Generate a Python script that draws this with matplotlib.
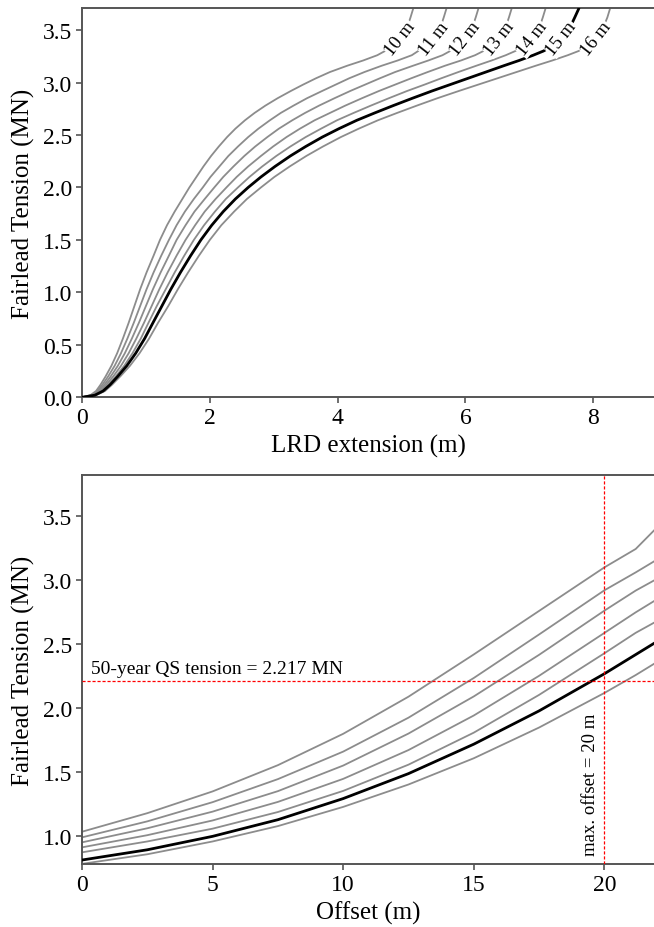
import numpy as np
import matplotlib.pyplot as plt

plt.rcParams['font.family'] = ['Liberation Serif', 'DejaVu Serif']

# LRD design lengths (m); 15 m is the selected design
lengths = ['10 m', '11 m', '12 m', '13 m', '14 m', '15 m', '16 m']
selected = '15 m'

# --- LRD extension (m) at each fairlead tension level (MN) ---
tension_levels = [0, 0.02, 0.06, 0.12, 0.20, 0.30, 0.42, 0.56, 0.71, 0.87, 1.03,
                  1.19, 1.35, 1.50, 1.64, 1.77, 1.89, 2.00, 2.10, 2.20, 2.30, 2.39,
                  2.48, 2.56, 2.64, 2.71, 2.78, 2.85, 2.92, 2.98, 3.04, 3.10, 3.16,
                  3.21, 3.26, 3.30, 3.36, 3.44, 3.53, 3.62, 3.70]
ext_10 = [0, 0.13, 0.22, 0.29, 0.37, 0.46, 0.55, 0.64, 0.73, 0.82, 0.91, 1.01, 1.12,
          1.22, 1.33, 1.45, 1.57, 1.68, 1.79, 1.90, 2.02, 2.14, 2.27, 2.40, 2.55,
          2.70, 2.87, 3.06, 3.27, 3.46, 3.66, 3.88, 4.15, 4.40, 4.62, 4.74,
          4.89, 5.01, 5.09, 5.14, 5.18]
ext_11 = [0, 0.15, 0.24, 0.32, 0.41, 0.51, 0.61, 0.71, 0.81, 0.91, 1.01, 1.12, 1.24,
          1.36, 1.48, 1.61, 1.75, 1.89, 2.01, 2.15, 2.29, 2.44, 2.60, 2.76, 2.94,
          3.11, 3.31, 3.52, 3.76, 3.97, 4.18, 4.42, 4.69, 4.94, 5.16, 5.26,
          5.41, 5.53, 5.61, 5.66, 5.70]
ext_12 = [0, 0.16, 0.26, 0.35, 0.45, 0.56, 0.67, 0.78, 0.89, 1.00, 1.11, 1.23, 1.36,
          1.48, 1.62, 1.76, 1.92, 2.07, 2.21, 2.37, 2.54, 2.71, 2.90, 3.08, 3.29,
          3.49, 3.71, 3.95, 4.20, 4.43, 4.66, 4.90, 5.18, 5.42, 5.64, 5.76,
          5.91, 6.03, 6.11, 6.16, 6.20]
ext_13 = [0, 0.17, 0.29, 0.38, 0.49, 0.61, 0.73, 0.85, 0.97, 1.09, 1.21, 1.34, 1.48,
          1.62, 1.77, 1.92, 2.09, 2.26, 2.42, 2.60, 2.80, 2.99, 3.20, 3.41, 3.64,
          3.88, 4.12, 4.38, 4.65, 4.90, 5.15, 5.41, 5.68, 5.93, 6.15, 6.28,
          6.43, 6.55, 6.63, 6.68, 6.72]
ext_14 = [0, 0.19, 0.31, 0.41, 0.53, 0.66, 0.79, 0.92, 1.04, 1.17, 1.31, 1.45, 1.60,
          1.75, 1.91, 2.08, 2.25, 2.44, 2.62, 2.82, 3.04, 3.26, 3.50, 3.74, 3.99,
          4.25, 4.52, 4.80, 5.09, 5.36, 5.62, 5.89, 6.17, 6.41, 6.63, 6.78,
          6.94, 7.07, 7.16, 7.21, 7.25]
ext_15 = [0, 0.20, 0.33, 0.44, 0.56, 0.70, 0.84, 0.98, 1.11, 1.25, 1.39, 1.54, 1.70,
          1.86, 2.03, 2.21, 2.40, 2.60, 2.80, 3.02, 3.26, 3.50, 3.76, 4.02, 4.30,
          4.58, 4.87, 5.17, 5.48, 5.76, 6.04, 6.32, 6.60, 6.84, 7.06, 7.22,
          7.40, 7.54, 7.64, 7.71, 7.77]
ext_16 = [0, 0.22, 0.36, 0.47, 0.60, 0.75, 0.90, 1.05, 1.19, 1.35, 1.50, 1.66, 1.83,
          2.00, 2.18, 2.38, 2.58, 2.80, 3.01, 3.25, 3.51, 3.77, 4.05, 4.33, 4.63,
          4.93, 5.24, 5.56, 5.90, 6.20, 6.50, 6.80, 7.10, 7.36, 7.60, 7.77,
          7.94, 8.07, 8.16, 8.22, 8.26]
extensions = [ext_10, ext_11, ext_12, ext_13, ext_14, ext_15, ext_16]

# --- fairlead tension (MN) against platform offset (m) ---
offsets = [0, 2.5, 5, 7.5, 10, 12.5, 15, 17.5, 20, 21.2, 22]
ten_10 = [1.036, 1.181, 1.351, 1.556, 1.801, 2.091, 2.421, 2.761, 3.101, 3.245, 3.41]
ten_11 = [0.992, 1.117, 1.267, 1.447, 1.662, 1.927, 2.237, 2.577, 2.922, 3.062, 3.16]
ten_12 = [0.953, 1.063, 1.193, 1.353, 1.553, 1.803, 2.093, 2.418, 2.763, 2.920, 3.01]
ten_13 = [0.914, 1.009, 1.124, 1.269, 1.449, 1.674, 1.944, 2.254, 2.589, 2.750, 2.85]
ten_14 = [0.875, 0.960, 1.060, 1.190, 1.355, 1.560, 1.810, 2.105, 2.430, 2.590, 2.68]
ten_15 = [0.815, 0.895, 1.000, 1.130, 1.295, 1.490, 1.720, 1.980, 2.270, 2.420, 2.52]
ten_16 = [0.785, 0.860, 0.960, 1.080, 1.230, 1.405, 1.610, 1.850, 2.120, 2.260, 2.36]
tensions = [ten_10, ten_11, ten_12, ten_13, ten_14, ten_15, ten_16]

qs_tension = 2.217   # MN
max_offset = 20      # m
label_level = 3.42   # tension where the length labels sit


def style(c):
    return ('black', 2.0, 3) if c == selected else ('#8c8c8c', 1.3, 2)


fig = plt.figure(figsize=(6.54, 9.28), dpi=100)
ax1 = fig.add_axes([0.1254, 0.5708, 0.8746, 0.4195])
ax2 = fig.add_axes([0.1254, 0.0679, 0.8746, 0.4192])

for name, ext in zip(lengths, extensions):
    col, lw, z = style(name)
    ax1.plot(ext, tension_levels, color=col, lw=lw, zorder=z)
    lx = np.interp(label_level, tension_levels, ext)
    ax1.text(lx, label_level, name, rotation=52, ha='center', va='center',
             fontsize=13.5, zorder=5,
             bbox=dict(fc='white', ec='none', pad=0.3))

ax1.set_xlim(0, 8.95)
ax1.set_ylim(0, 3.71)
ax1.set_xticks([0, 2, 4, 6, 8])
ax1.set_yticks(np.arange(0, 3.51, 0.5))
ax1.set_xlabel('LRD extension (m)')
ax1.set_ylabel('Fairlead Tension (MN)')

for name, ten in zip(lengths, tensions):
    col, lw, z = style(name)
    ax2.plot(offsets, ten, color=col, lw=lw, zorder=z)

ax2.axhline(qs_tension, color='red', ls=(0, (2.5, 1.5)), lw=0.9, zorder=4)
ax2.axvline(max_offset, color='red', ls=(0, (2.5, 1.5)), lw=0.9, zorder=4)
ax2.text(0.35, qs_tension + 0.025, f'50-year QS tension = {qs_tension} MN',
         fontsize=14, va='bottom', ha='left')
ax2.text(max_offset - 0.55, 1.41, f'max. offset = {max_offset} m', rotation=90,
         fontsize=13.5, va='center', ha='center')

ax2.set_xlim(0, 21.9)
ax2.set_ylim(0.784, 3.823)
ax2.set_xticks([0, 5, 10, 15, 20])
ax2.set_yticks(np.arange(1.0, 3.51, 0.5))
ax2.set_xlabel('Offset (m)')
ax2.set_ylabel('Fairlead Tension (MN)')

for ax in (ax1, ax2):
    ax.spines['right'].set_visible(False)
    for s in ('left', 'bottom', 'top'):
        ax.spines[s].set_color('#555555')
        ax.spines[s].set_linewidth(1.4)
    ax.tick_params(direction='out', length=4, width=1.2, color='#555555',
                   labelsize=17, pad=3)
    ax.yaxis.set_major_formatter(plt.FormatStrFormatter('%.1f'))
    ax.xaxis.label.set_size(18)
    ax.yaxis.label.set_size(18)
    ax.xaxis.labelpad = 4
    ax.yaxis.labelpad = 6

fig.savefig('out.png', dpi=100)
